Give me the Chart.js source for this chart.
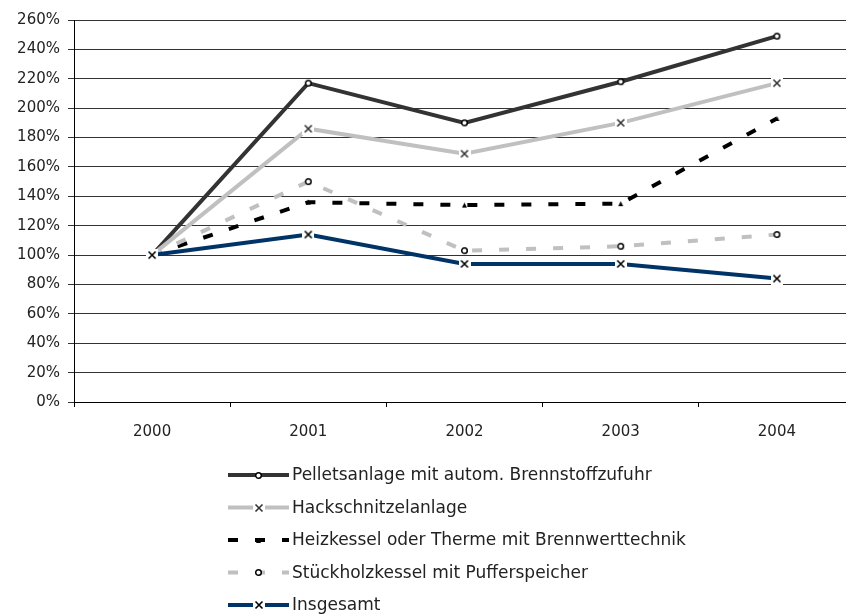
<!DOCTYPE html>
<html>
<head>
<meta charset="utf-8">
<script src="https://cdn.jsdelivr.net/npm/chart.js@4.4.1/dist/chart.umd.min.js"></script>
<style>
    html, body { margin: 0; padding: 0; background: #fff; overflow: hidden; }
    #wrap { width: 846px; height: 616px; overflow: hidden; position: relative; }
    #wrap canvas { position: absolute; left: 0; top: 0; }
</style>
</head>
<body>
<div id="wrap"><canvas id="chart" width="864" height="616"></canvas></div>
<script>
const years = ['2000', '2001', '2002', '2003', '2004'];
const pellets = [100, 217, 190, 218, 249];
const hackschnitzel = [100, 186, 169, 190, 217];
const heizkessel = [100, 136, 134, 135, 193];
const stueckholz = [100, 150, 103, 106, 114];
const insgesamt = [100, 114, 94, 94, 84];
const seriesNames = [
    'Pelletsanlage mit autom. Brennstoffzufuhr',
    'Hackschnitzelanlage',
    'Heizkessel oder Therme mit Brennwerttechnik',
    'Stückholzkessel mit Pufferspeicher',
    'Insgesamt'
];

const FONT = '"DejaVu Sans", sans-serif';

// little marker images, white box behind like the office chart
function markerCross(color) {
    const c = document.createElement('canvas');
    c.width = 12; c.height = 12;
    const g = c.getContext('2d');
    g.fillStyle = '#fff';
    g.fillRect(0, 0, 12, 12);
    g.strokeStyle = color;
    g.lineWidth = 1.6;
    g.beginPath();
    g.moveTo(2.5, 2.5); g.lineTo(9.5, 9.5);
    g.moveTo(9.5, 2.5); g.lineTo(2.5, 9.5);
    g.stroke();
    return c;
}
function markerCircle() {
    const c = document.createElement('canvas');
    c.width = 9; c.height = 9;
    const g = c.getContext('2d');
    g.fillStyle = '#fff';
    g.strokeStyle = '#000';
    g.lineWidth = 1.5;
    g.beginPath();
    g.arc(4.5, 4.5, 2.8, 0, Math.PI * 2);
    g.fill();
    g.stroke();
    return c;
}
function markerTriangle() {
    const c = document.createElement('canvas');
    c.width = 7; c.height = 7;
    const g = c.getContext('2d');
    g.fillStyle = '#000';
    g.beginPath();
    g.moveTo(3.5, 1); g.lineTo(6, 6); g.lineTo(1, 6);
    g.closePath();
    g.fill();
    return c;
}

const legendPlugin = {
    id: 'rowLegend',
    afterDraw(chart) {
        const ctx = chart.ctx;
        const x0 = 228, x1 = 289, textX = 292;
        const firstY = chart.height - 141;
        const step = 32.5;
        ctx.save();
        chart.data.datasets.forEach((ds, i) => {
            const y = firstY + i * step;
            ctx.strokeStyle = ds.borderColor;
            ctx.lineWidth = ds.borderWidth;
            ctx.setLineDash(ds.borderDash || []);
            ctx.beginPath();
            ctx.moveTo(x0, y);
            ctx.lineTo(x1, y);
            ctx.stroke();
            ctx.setLineDash([]);
            const img = ds.pointStyle;
            ctx.drawImage(img, Math.round((x0 + x1) / 2 - img.width / 2), Math.round(y - img.height / 2));
            ctx.fillStyle = '#222';
            ctx.font = '17px ' + FONT;
            ctx.textBaseline = 'middle';
            ctx.textAlign = 'left';
            ctx.fillText(ds.label, textX, y + 1);
        });
        ctx.restore();
    }
};

function line(label, data, color, width, dash, marker, order) {
    return {
        label: label,
        data: data,
        borderColor: color,
        backgroundColor: color,
        borderWidth: width,
        borderDash: dash,
        pointStyle: marker,
        pointRadius: 5,
        pointHoverRadius: 5,
        tension: 0,
        fill: false,
        order: order
    };
}

new Chart(document.getElementById('chart'), {
    type: 'line',
    data: {
        labels: years,
        datasets: [
            line(seriesNames[0], pellets, '#333333', 4, [], markerCircle(), 5),
            line(seriesNames[1], hackschnitzel, '#c0c0c0', 4, [], markerCross('#333'), 4),
            line(seriesNames[2], heizkessel, '#000000', 4, [10, 17], markerTriangle(), 3),
            line(seriesNames[3], stueckholz, '#c0c0c0', 4, [10, 17], markerCircle(), 2),
            line(seriesNames[4], insgesamt, '#003366', 4, [], markerCross('#000'), 1)
        ]
    },
    options: {
        responsive: false,
        animation: false,
        layout: { padding: { top: 20, right: 2, bottom: 156, left: 0 } },
        plugins: {
            legend: { display: false },
            tooltip: { enabled: false }
        },
        scales: {
            x: {
                offset: true,
                grid: { offset: true, drawOnChartArea: false, drawTicks: true, tickLength: 5, color: '#000' },
                border: { color: '#000', width: 1 },
                ticks: { color: '#222', font: { family: FONT, size: 15 }, padding: 16 },
                afterFit(s) { s.height = 58; }
            },
            y: {
                min: 0,
                max: 260,
                grid: { color: '#333', lineWidth: 1, tickLength: 6 },
                border: { color: '#000', width: 1 },
                ticks: {
                    stepSize: 20,
                    color: '#222',
                    font: { family: FONT, size: 15 },
                    padding: 8,
                    callback: v => v + '%'
                },
                afterFit(s) { s.width = 74; }
            }
        }
    },
    plugins: [legendPlugin]
});
</script>
</body>
</html>
